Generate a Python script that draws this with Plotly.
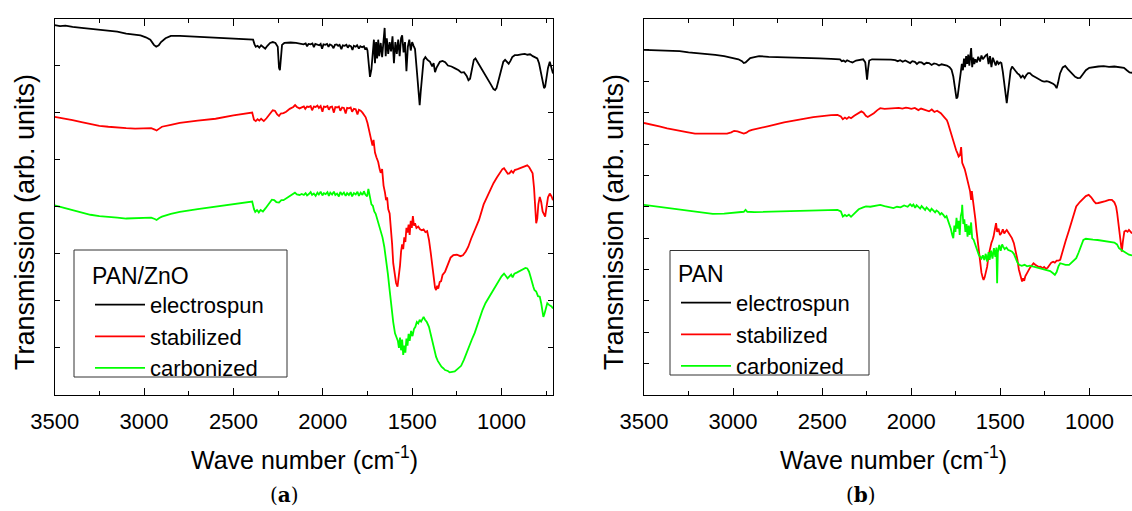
import plotly.graph_objects as go

# ---------------- data (wavenumber cm^-1, transmission in arb. units) ----------------
# Panel (a): PAN/ZnO
pan_zno_electrospun = [
    (3500, 7.86), (3470, 7.84), (3440, 7.85), (3400, 7.82), (3350, 7.80), (3300, 7.78), (3250, 7.76),
    (3200, 7.75), (3150, 7.72), (3100, 7.68), (3060, 7.66), (3020, 7.64), (2990, 7.60), (2965, 7.55),
    (2945, 7.44), (2932, 7.40), (2918, 7.43), (2905, 7.50), (2880, 7.58), (2850, 7.63), (2800, 7.63),
    (2700, 7.61), (2600, 7.59), (2500, 7.57), (2420, 7.56), (2390, 7.55), (2382, 7.45), (2375, 7.40),
    (2365, 7.42), (2355, 7.38), (2345, 7.43), (2335, 7.40), (2322, 7.36), (2310, 7.42), (2295, 7.48),
    (2280, 7.50), (2265, 7.48), (2252, 7.40), (2245, 6.95), (2240, 6.90), (2234, 7.20), (2228, 7.44),
    (2215, 7.48), (2180, 7.49), (2150, 7.48), (2120, 7.47), (2108, 7.45), (2096, 7.47), (2088, 7.41),
    (2080, 7.46), (2068, 7.45), (2058, 7.47), (2050, 7.39), (2042, 7.46), (2030, 7.45), (2020, 7.43),
    (2012, 7.46), (2004, 7.36), (1996, 7.45), (1986, 7.44), (1976, 7.46), (1968, 7.40), (1960, 7.45),
    (1950, 7.43), (1940, 7.37), (1932, 7.44), (1922, 7.45), (1914, 7.42), (1906, 7.44), (1896, 7.35),
    (1888, 7.43), (1878, 7.42), (1868, 7.44), (1860, 7.38), (1852, 7.43), (1842, 7.41), (1834, 7.33),
    (1826, 7.42), (1816, 7.40), (1808, 7.43), (1798, 7.36), (1790, 7.41), (1780, 7.39), (1770, 7.41),
    (1762, 7.34), (1756, 7.38), (1750, 7.32),
    (1742, 7.05), (1736, 6.76), (1728, 6.92), (1720, 7.25), (1714, 7.55), (1708, 7.05), (1702, 7.50),
    (1696, 7.15), (1690, 7.55), (1684, 7.20), (1676, 7.48), (1668, 7.18), (1660, 7.52), (1654, 7.80),
    (1648, 7.20), (1642, 7.58), (1634, 7.25), (1626, 7.50), (1618, 7.30), (1610, 7.62), (1602, 7.05),
    (1594, 7.50), (1586, 7.25), (1578, 7.55), (1570, 7.20), (1562, 7.58), (1556, 7.64), (1548, 7.28),
    (1540, 7.50), (1532, 6.88), (1524, 7.40), (1516, 7.55), (1508, 7.32), (1500, 7.50), (1492, 7.42),
    (1484, 7.35), (1474, 6.90), (1466, 6.40), (1458, 6.16), (1452, 6.45), (1444, 6.90), (1436, 7.12),
    (1426, 7.18), (1414, 7.12), (1400, 7.08), (1388, 6.98), (1380, 7.05), (1372, 6.86), (1364, 6.95),
    (1356, 7.00), (1345, 7.08), (1330, 7.10), (1315, 7.07), (1300, 7.00), (1280, 6.98), (1260, 6.94),
    (1240, 6.90), (1225, 6.85), (1210, 6.86), (1195, 6.78), (1185, 6.69), (1176, 6.72), (1165, 6.95),
    (1155, 7.12), (1146, 7.15), (1135, 7.08), (1120, 6.98), (1105, 6.90), (1090, 6.82), (1075, 6.72),
    (1060, 6.60), (1045, 6.50), (1036, 6.48), (1028, 6.52), (1015, 6.70), (1000, 6.95), (990, 7.08),
    (980, 7.12), (970, 7.08), (960, 7.04), (950, 7.10), (940, 7.18), (926, 7.22), (910, 7.22),
    (890, 7.24), (870, 7.25), (855, 7.23), (840, 7.24), (825, 7.20), (810, 7.18), (800, 7.15),
    (790, 7.05), (780, 6.85), (770, 6.62), (762, 6.52), (756, 6.55), (748, 6.75), (740, 6.95),
    (730, 7.08), (720, 6.95), (712, 6.83),
]

pan_zno_stabilized = [
    (3500, 5.91), (3470, 5.89), (3440, 5.88), (3400, 5.84), (3350, 5.80), (3300, 5.76), (3250, 5.72),
    (3200, 5.70), (3150, 5.68), (3100, 5.67), (3050, 5.66), (3000, 5.66), (2960, 5.67), (2940, 5.64),
    (2930, 5.62), (2915, 5.66), (2900, 5.70), (2850, 5.74), (2800, 5.78), (2700, 5.83), (2600, 5.87),
    (2500, 5.94), (2420, 5.99), (2395, 6.00), (2385, 5.85), (2375, 5.82), (2365, 5.86), (2355, 5.83),
    (2345, 5.87), (2330, 5.82), (2315, 5.88), (2295, 5.98), (2280, 6.05), (2268, 6.04), (2255, 5.96),
    (2245, 5.93), (2235, 5.98), (2220, 5.99), (2205, 6.02), (2185, 6.08), (2165, 6.12), (2155, 6.16),
    (2145, 6.12), (2130, 6.09), (2118, 6.11), (2106, 6.13), (2098, 6.08), (2088, 6.13), (2078, 6.12),
    (2068, 6.14), (2060, 6.05), (2050, 6.13), (2040, 6.12), (2030, 6.15), (2022, 6.10), (2012, 6.14),
    (2002, 6.02), (1994, 6.13), (1984, 6.12), (1974, 6.14), (1966, 6.06), (1958, 6.12), (1948, 6.13),
    (1938, 6.00), (1930, 6.12), (1920, 6.11), (1910, 6.13), (1902, 6.04), (1892, 6.11), (1882, 6.10),
    (1872, 5.98), (1864, 6.10), (1854, 6.09), (1844, 6.11), (1836, 6.02), (1826, 6.08), (1816, 6.07),
    (1806, 5.96), (1798, 6.06), (1788, 6.04), (1778, 6.00), (1770, 5.96), (1760, 5.90), (1750, 5.78),
    (1740, 5.62), (1730, 5.48), (1722, 5.30), (1716, 5.42), (1708, 5.15), (1700, 5.05), (1690, 4.95),
    (1682, 4.80), (1676, 4.72), (1668, 4.80), (1660, 4.45), (1652, 4.30), (1646, 4.14), (1640, 4.20),
    (1634, 3.95), (1626, 3.86), (1620, 3.60), (1612, 3.20), (1606, 2.80), (1598, 2.55), (1590, 2.38),
    (1582, 2.30), (1576, 2.45), (1568, 2.75), (1562, 3.05), (1556, 3.20), (1550, 3.10), (1544, 3.35),
    (1538, 3.25), (1532, 3.55), (1526, 3.45), (1520, 3.62), (1514, 3.40), (1508, 3.70), (1502, 3.55),
    (1496, 3.80), (1490, 3.60), (1484, 3.65), (1476, 3.55), (1466, 3.58), (1456, 3.52), (1446, 3.50),
    (1436, 3.52), (1426, 3.46), (1416, 3.48), (1406, 3.30), (1396, 3.02), (1388, 2.75), (1380, 2.45),
    (1372, 2.28), (1366, 2.23), (1360, 2.32), (1354, 2.26), (1346, 2.40), (1338, 2.42), (1330, 2.55),
    (1316, 2.62), (1300, 2.80), (1285, 2.92), (1270, 2.97), (1250, 2.98), (1230, 2.95), (1216, 2.97),
    (1200, 3.05), (1186, 3.15), (1170, 3.32), (1150, 3.50), (1126, 3.72), (1100, 4.05), (1070, 4.30),
    (1045, 4.50), (1026, 4.62), (1010, 4.72), (995, 4.80), (986, 4.82), (975, 4.74), (965, 4.70),
    (956, 4.71), (945, 4.76), (935, 4.72), (926, 4.78), (910, 4.80), (890, 4.83), (870, 4.86),
    (856, 4.88), (845, 4.84), (835, 4.78), (826, 4.71), (818, 4.40), (812, 3.90), (806, 3.65),
    (800, 3.75), (794, 4.05), (786, 4.21), (778, 4.10), (770, 3.90), (762, 3.82), (756, 3.79),
    (748, 4.00), (740, 4.20), (730, 4.28), (720, 4.22), (712, 4.14),
]

pan_zno_carbonized = [
    (3500, 4.03), (3470, 4.00), (3440, 3.98), (3400, 3.93), (3350, 3.88), (3300, 3.83), (3250, 3.80),
    (3200, 3.79), (3150, 3.77), (3100, 3.75), (3050, 3.76), (3000, 3.76), (2960, 3.77), (2940, 3.74),
    (2930, 3.72), (2915, 3.76), (2900, 3.79), (2850, 3.85), (2800, 3.89), (2700, 3.95), (2600, 4.00),
    (2500, 4.06), (2420, 4.10), (2395, 4.11), (2385, 3.95), (2378, 3.89), (2368, 3.93), (2358, 3.88),
    (2348, 3.93), (2335, 3.90), (2320, 3.97), (2300, 4.08), (2285, 4.15), (2272, 4.14), (2260, 4.10),
    (2245, 4.09), (2232, 4.14), (2220, 4.14), (2205, 4.18), (2185, 4.22), (2165, 4.27), (2156, 4.30),
    (2145, 4.26), (2130, 4.25), (2118, 4.27), (2106, 4.25), (2096, 4.29), (2088, 4.24), (2078, 4.27),
    (2068, 4.31), (2060, 4.25), (2050, 4.28), (2040, 4.23), (2030, 4.30), (2022, 4.26), (2012, 4.32),
    (2002, 4.24), (1994, 4.29), (1984, 4.27), (1974, 4.31), (1966, 4.23), (1958, 4.30), (1948, 4.26),
    (1938, 4.32), (1930, 4.25), (1920, 4.28), (1910, 4.22), (1902, 4.31), (1892, 4.26), (1882, 4.30),
    (1872, 4.23), (1864, 4.29), (1854, 4.25), (1844, 4.31), (1836, 4.22), (1826, 4.29), (1816, 4.26),
    (1806, 4.32), (1798, 4.23), (1788, 4.30), (1778, 4.25), (1770, 4.33), (1762, 4.26), (1752, 4.22),
    (1745, 4.38), (1736, 4.18), (1728, 4.05), (1720, 4.02), (1712, 3.90), (1704, 3.85), (1696, 3.75),
    (1686, 3.65), (1676, 3.50), (1666, 3.35), (1656, 3.15), (1646, 2.90), (1636, 2.58), (1626, 2.23),
    (1616, 1.85), (1606, 1.55), (1596, 1.31), (1588, 1.20), (1580, 1.15), (1574, 1.00), (1568, 1.22),
    (1562, 0.95), (1556, 1.18), (1550, 0.85), (1544, 1.05), (1538, 0.90), (1532, 1.20), (1526, 1.05),
    (1520, 1.30), (1514, 1.15), (1506, 1.36), (1498, 1.25), (1490, 1.40), (1482, 1.45), (1474, 1.55),
    (1466, 1.52), (1458, 1.60), (1450, 1.56), (1442, 1.64), (1436, 1.66), (1428, 1.60), (1418, 1.55),
    (1406, 1.45), (1396, 1.30), (1386, 1.12), (1376, 0.95), (1366, 0.81), (1356, 0.72), (1346, 0.65),
    (1336, 0.60), (1326, 0.57), (1316, 0.53), (1300, 0.51), (1290, 0.48), (1276, 0.49), (1262, 0.50),
    (1250, 0.54), (1236, 0.58), (1226, 0.62), (1210, 0.75), (1196, 0.90), (1180, 1.06), (1166, 1.18),
    (1150, 1.32), (1136, 1.48), (1120, 1.62), (1106, 1.81), (1090, 1.95), (1075, 2.05), (1060, 2.15),
    (1046, 2.23), (1030, 2.32), (1015, 2.42), (1000, 2.52), (986, 2.58), (975, 2.52), (966, 2.48),
    (956, 2.52), (946, 2.56), (938, 2.50), (928, 2.58), (915, 2.60), (900, 2.63), (880, 2.67),
    (866, 2.70), (856, 2.69), (846, 2.62), (838, 2.52), (830, 2.38), (822, 2.30), (816, 2.23),
    (806, 2.20), (796, 2.10), (786, 2.09), (778, 1.95), (772, 1.75), (766, 1.66), (760, 1.72),
    (752, 1.85), (744, 1.95), (736, 1.92), (728, 1.90), (720, 1.88), (712, 1.84),
]

# Panel (b): PAN
pan_electrospun = [
    (3500, 11.00), (3450, 10.99), (3400, 10.98), (3350, 10.97), (3300, 10.96), (3250, 10.92), (3200, 10.90),
    (3150, 10.87), (3100, 10.84), (3050, 10.80), (3000, 10.74), (2970, 10.70), (2950, 10.64), (2940, 10.58),
    (2930, 10.60), (2918, 10.68), (2904, 10.74), (2880, 10.77), (2854, 10.80), (2800, 10.78), (2700, 10.77),
    (2600, 10.75), (2514, 10.73), (2450, 10.71), (2400, 10.70), (2390, 10.64), (2380, 10.66), (2370, 10.62),
    (2360, 10.67), (2345, 10.63), (2330, 10.60), (2310, 10.66), (2290, 10.69), (2270, 10.70), (2258, 10.60),
    (2252, 10.10), (2248, 10.05), (2242, 10.40), (2236, 10.66), (2220, 10.70), (2180, 10.70), (2140, 10.69),
    (2114, 10.69), (2090, 10.67), (2076, 10.64), (2062, 10.67), (2048, 10.62), (2034, 10.66), (2020, 10.63),
    (2006, 10.58), (1994, 10.64), (1980, 10.62), (1968, 10.55), (1956, 10.61), (1942, 10.60), (1928, 10.54),
    (1914, 10.59), (1900, 10.58), (1886, 10.52), (1872, 10.57), (1858, 10.55), (1844, 10.50), (1830, 10.54),
    (1814, 10.52), (1800, 10.50), (1785, 10.45), (1774, 10.37), (1764, 10.15), (1754, 9.75), (1746, 9.45),
    (1740, 9.50), (1732, 9.90), (1724, 10.25), (1716, 10.55), (1710, 10.35), (1704, 10.72), (1698, 10.45),
    (1692, 10.80), (1686, 10.55), (1680, 10.85), (1674, 10.50), (1668, 10.80), (1664, 11.06), (1658, 10.45),
    (1652, 10.75), (1646, 10.55), (1640, 10.70), (1632, 10.60), (1624, 10.78), (1614, 10.63), (1606, 10.82),
    (1598, 10.70), (1590, 10.78), (1582, 10.82), (1574, 10.85), (1566, 10.55), (1558, 10.80), (1550, 10.45),
    (1542, 10.75), (1534, 10.60), (1526, 10.50), (1518, 10.65), (1510, 10.55), (1500, 10.60), (1494, 10.58),
    (1486, 10.30), (1478, 9.90), (1470, 9.45), (1464, 9.30), (1458, 9.60), (1450, 10.05), (1442, 10.35),
    (1434, 10.47), (1424, 10.40), (1414, 10.30), (1404, 10.25), (1394, 10.21), (1384, 10.12), (1374, 10.18),
    (1364, 10.10), (1354, 10.20), (1344, 10.26), (1334, 10.26), (1320, 10.18), (1300, 10.12), (1280, 10.05),
    (1264, 10.00), (1254, 9.99), (1240, 10.00), (1226, 9.98), (1212, 9.95), (1204, 9.92), (1194, 9.88),
    (1184, 9.78), (1176, 9.95), (1165, 10.25), (1150, 10.44), (1136, 10.49), (1120, 10.38), (1100, 10.25),
    (1080, 10.14), (1066, 10.10), (1052, 10.11), (1040, 10.20), (1020, 10.35), (1001, 10.43), (980, 10.45),
    (950, 10.47), (920, 10.48), (890, 10.46), (860, 10.47), (830, 10.45), (806, 10.43), (790, 10.35),
    (775, 10.28), (761, 10.27),
]

pan_stabilized = [
    (3500, 8.67), (3450, 8.62), (3414, 8.56), (3370, 8.50), (3314, 8.43), (3260, 8.38), (3214, 8.33),
    (3150, 8.33), (3100, 8.33), (3034, 8.33), (3010, 8.37), (2994, 8.42), (2975, 8.40), (2955, 8.36),
    (2940, 8.33), (2925, 8.36), (2910, 8.42), (2894, 8.45), (2850, 8.50), (2800, 8.57), (2714, 8.69),
    (2650, 8.76), (2550, 8.86), (2450, 8.92), (2414, 8.93), (2395, 8.88), (2384, 8.79), (2372, 8.84),
    (2362, 8.80), (2350, 8.86), (2338, 8.82), (2320, 8.90), (2295, 9.00), (2280, 9.04), (2268, 9.00),
    (2255, 8.90), (2244, 8.86), (2230, 8.90), (2210, 8.98), (2190, 9.08), (2174, 9.14), (2150, 9.12),
    (2120, 9.13), (2090, 9.12), (2070, 9.15), (2050, 9.13), (2030, 9.16), (2014, 9.14), (2000, 9.12),
    (1980, 9.15), (1960, 9.08), (1945, 9.13), (1930, 9.10), (1914, 9.09), (1900, 9.04), (1885, 9.10),
    (1870, 9.02), (1855, 9.06), (1834, 8.98), (1814, 8.85), (1800, 8.76), (1794, 8.67), (1780, 8.40),
    (1770, 8.20), (1764, 8.03), (1756, 7.95), (1748, 7.80), (1740, 7.70), (1734, 7.60), (1726, 7.65),
    (1720, 7.90), (1714, 7.40), (1706, 7.30), (1700, 7.20), (1694, 7.07), (1686, 6.90), (1678, 6.75),
    (1670, 6.50), (1664, 6.22), (1660, 6.50), (1654, 6.22), (1648, 6.00), (1640, 5.60), (1634, 5.26),
    (1626, 4.85), (1618, 4.45), (1614, 4.20), (1606, 3.90), (1598, 3.72), (1594, 3.67), (1588, 3.75),
    (1580, 3.95), (1574, 4.09), (1566, 4.45), (1558, 4.70), (1550, 4.85), (1544, 4.94), (1538, 5.05),
    (1530, 5.30), (1524, 5.48), (1518, 5.20), (1510, 5.30), (1502, 5.10), (1494, 5.16), (1486, 5.28),
    (1478, 5.15), (1470, 5.22), (1464, 5.26), (1455, 5.18), (1445, 5.10), (1435, 5.00), (1424, 4.84),
    (1414, 4.60), (1404, 4.31), (1396, 4.00), (1388, 3.78), (1382, 3.66), (1378, 3.62), (1372, 3.72),
    (1366, 3.64), (1360, 3.78), (1354, 3.83), (1344, 3.95), (1334, 4.05), (1324, 4.12), (1314, 4.20),
    (1304, 4.15), (1294, 4.10), (1284, 4.08), (1274, 4.09), (1264, 4.04), (1254, 4.08), (1244, 4.02),
    (1234, 4.06), (1224, 4.14), (1214, 4.22), (1204, 4.25), (1194, 4.22), (1184, 4.28), (1174, 4.28),
    (1164, 4.31), (1150, 4.55), (1134, 4.90), (1114, 5.26), (1094, 5.65), (1074, 6.01), (1054, 6.15),
    (1034, 6.25), (1020, 6.34), (1004, 6.38), (990, 6.30), (975, 6.18), (964, 6.11), (950, 6.12),
    (930, 6.14), (910, 6.18), (890, 6.22), (874, 6.22), (860, 6.14), (850, 6.00), (844, 5.79),
    (836, 5.40), (826, 5.00), (820, 4.65), (818, 4.57), (812, 4.90), (804, 5.21), (795, 5.24),
    (786, 5.20), (778, 5.26), (770, 5.20), (761, 5.15),
]

pan_carbonized = [
    (3500, 6.06), (3450, 6.02), (3400, 5.98), (3350, 5.95), (3314, 5.92), (3250, 5.88), (3200, 5.82),
    (3150, 5.79), (3114, 5.77), (3050, 5.78), (3000, 5.80), (2960, 5.81), (2940, 5.84), (2930, 5.90),
    (2920, 5.84), (2880, 5.83), (2800, 5.84), (2714, 5.85), (2600, 5.87), (2500, 5.89), (2414, 5.90),
    (2395, 5.85), (2384, 5.69), (2372, 5.74), (2362, 5.70), (2350, 5.75), (2338, 5.68), (2320, 5.78),
    (2295, 5.92), (2270, 5.98), (2254, 6.01), (2230, 6.00), (2200, 6.04), (2174, 6.06), (2150, 6.02),
    (2120, 5.98), (2100, 5.96), (2080, 6.00), (2060, 5.98), (2040, 6.04), (2020, 6.00), (2006, 6.08),
    (1996, 6.02), (1988, 6.07), (1978, 5.97), (1970, 6.05), (1960, 6.00), (1950, 5.94), (1942, 6.02),
    (1932, 5.96), (1922, 5.90), (1914, 5.98), (1904, 5.93), (1894, 5.86), (1886, 5.94), (1876, 5.89),
    (1866, 5.82), (1858, 5.88), (1848, 5.84), (1838, 5.75), (1830, 5.80), (1820, 5.74), (1810, 5.66),
    (1802, 5.70), (1794, 5.58), (1786, 5.45), (1778, 5.30), (1770, 5.10), (1764, 5.00), (1758, 5.40),
    (1752, 5.20), (1746, 5.65), (1740, 5.30), (1734, 5.55), (1728, 5.10), (1722, 5.70), (1716, 5.85),
    (1714, 6.06), (1708, 5.45), (1702, 5.60), (1696, 5.20), (1690, 5.45), (1684, 5.05), (1678, 5.40),
    (1672, 5.10), (1664, 5.50), (1658, 5.00), (1650, 4.95), (1644, 4.84), (1636, 4.70), (1628, 4.55),
    (1620, 4.45), (1614, 4.41), (1606, 4.35), (1598, 4.45), (1590, 4.30), (1582, 4.50), (1574, 4.25),
    (1566, 4.55), (1560, 4.31), (1552, 4.60), (1544, 4.35), (1536, 4.68), (1528, 4.40), (1522, 4.70),
    (1518, 3.56), (1514, 4.55), (1506, 4.78), (1498, 4.60), (1490, 4.80), (1484, 4.73), (1476, 4.65),
    (1466, 4.70), (1456, 4.62), (1446, 4.60), (1434, 4.57), (1424, 4.50), (1414, 4.35), (1404, 4.22),
    (1394, 4.15), (1380, 4.12), (1364, 4.15), (1350, 4.10), (1334, 4.12), (1314, 4.09), (1294, 4.06),
    (1274, 4.03), (1254, 4.00), (1234, 3.99), (1220, 3.95), (1204, 3.88), (1194, 3.83), (1184, 3.92),
    (1174, 4.10), (1164, 4.20), (1150, 4.18), (1134, 4.15), (1114, 4.15), (1100, 4.22), (1090, 4.30),
    (1074, 4.36), (1060, 4.55), (1046, 4.75), (1034, 4.94), (1020, 4.98), (1000, 4.96), (980, 4.95),
    (954, 4.94), (930, 4.92), (900, 4.90), (874, 4.89), (860, 4.86), (845, 4.80), (834, 4.68),
    (820, 4.62), (800, 4.55), (778, 4.47), (761, 4.45),
]

series_names = ["electrospun", "stabilized", "carbonized"]
series_colors = ["#000000", "#ff0000", "#00ff00"]
panel_a_series = [pan_zno_electrospun, pan_zno_stabilized, pan_zno_carbonized]
panel_b_series = [pan_electrospun, pan_stabilized, pan_carbonized]
panel_titles = ["PAN/ZnO", "PAN"]
x_tick_values = [3500, 3000, 2500, 2000, 1500, 1000]
x_tick_labels = ["3500", "3000", "2500", "2000", "1500", "1000"]

# ---------------- figure ----------------
W, H = 1132, 511
FONT = "Liberation Sans, Arial, sans-serif"

fig = go.Figure()
for panel, (series_list, xa, ya, leg) in enumerate(
        [(panel_a_series, "x", "y", "legend"), (panel_b_series, "x2", "y2", "legend2")]):
    for name, color, data in zip(series_names, series_colors, series_list):
        fig.add_trace(go.Scatter(
            x=[p[0] for p in data], y=[p[1] for p in data],
            mode="lines", name=name, line=dict(color=color, width=1.8),
            xaxis=xa, yaxis=ya, legend=leg, hoverinfo="skip"))

ydom = [(H - 395) / H, (H - 18.5) / H]

def xaxis_cfg(domain, rng, anchor):
    return dict(domain=domain, range=rng, anchor=anchor, autorange=False, automargin=False,
                tickmode="array", tickvals=x_tick_values, ticktext=x_tick_labels,
                ticks="inside", ticklen=7, tickwidth=1.2, tickcolor="black",
                minor=dict(tickmode="linear", tick0=0, dtick=250, ticks="inside", ticklen=4,
                           tickwidth=1.2, tickcolor="black", showgrid=False),
                showline=True, linecolor="black", linewidth=1.3, mirror="ticks",
                showgrid=False, zeroline=False, ticklabelstandoff=6,
                tickfont=dict(family=FONT, size=22, color="black"))

def yaxis_cfg(rng, anchor, mirror):
    return dict(domain=ydom, range=rng, anchor=anchor, autorange=False, automargin=False,
                tickmode="linear", tick0=0, dtick=1, showticklabels=False,
                ticks="inside", ticklen=5, tickwidth=1.2, tickcolor="black",
                showline=True, linecolor="black", linewidth=1.3, mirror=mirror,
                showgrid=False, zeroline=False)

legend_common = dict(xanchor="left", yanchor="top", bgcolor="rgba(0,0,0,0)",
                     borderwidth=0,
                     font=dict(family=FONT, size=22, color="black"),
                     itemwidth=50, tracegroupgap=0, traceorder="normal")

fig.update_layout(
    width=W, height=H, margin=dict(l=0, r=0, t=0, b=0, autoexpand=False),
    paper_bgcolor="white", plot_bgcolor="white",
    font=dict(family=FONT, color="black"),
    xaxis=xaxis_cfg([54.7 / W, 553 / W], [3500, 712], "y"),
    yaxis=yaxis_cfg([0, 8], "x", "ticks"),
    xaxis2=xaxis_cfg([644 / W, 1.0], [3500, 761], "y2"),
    yaxis2=yaxis_cfg([0, 12], "x2", False),
    legend=dict(x=90 / W, y=(H - 254) / H,
                title=dict(text=panel_titles[0], font=dict(family=FONT, size=23)),
                **legend_common),
    legend2=dict(x=676 / W, y=(H - 252) / H,
                 title=dict(text=panel_titles[1], font=dict(family=FONT, size=23)),
                 **legend_common),
    showlegend=True,
)

# legend frames
for (x0, x1, y0, y1) in [(74, 287, 250, 377), (670, 869, 250.5, 375)]:
    fig.add_shape(type="rect", xref="paper", yref="paper",
                  x0=x0 / W, x1=x1 / W, y0=(H - y1) / H, y1=(H - y0) / H,
                  line=dict(color="#333333", width=1), fillcolor="rgba(0,0,0,0)",
                  layer="above")

for xc in [25 / W, 614 / W]:
    fig.add_annotation(text="Transmission (arb. units)", x=xc, y=(H - 222) / H,
                       xref="paper", yref="paper", showarrow=False, textangle=-90,
                       xanchor="center", yanchor="middle",
                       font=dict(family=FONT, size=27, color="black"))
for xc in [304 / W, 893 / W]:
    fig.add_annotation(text="Wave number (cm<sup>-1</sup>)", x=xc, y=(H - 458) / H,
                       xref="paper", yref="paper", showarrow=False,
                       xanchor="center", yanchor="middle",
                       font=dict(family=FONT, size=25, color="black"))
for xc, lab in [(284 / W, "a"), (861 / W, "b")]:
    fig.add_annotation(text="(<b>" + lab + "</b>)", x=xc, y=(H - 495) / H,
                       xref="paper", yref="paper", showarrow=False,
                       xanchor="center", yanchor="middle",
                       font=dict(family="DejaVu Serif, serif", size=20, color="black"))

fig.write_html("out.html", config={"displayModeBar": False},
               post_script="document.body.style.margin='0';")
